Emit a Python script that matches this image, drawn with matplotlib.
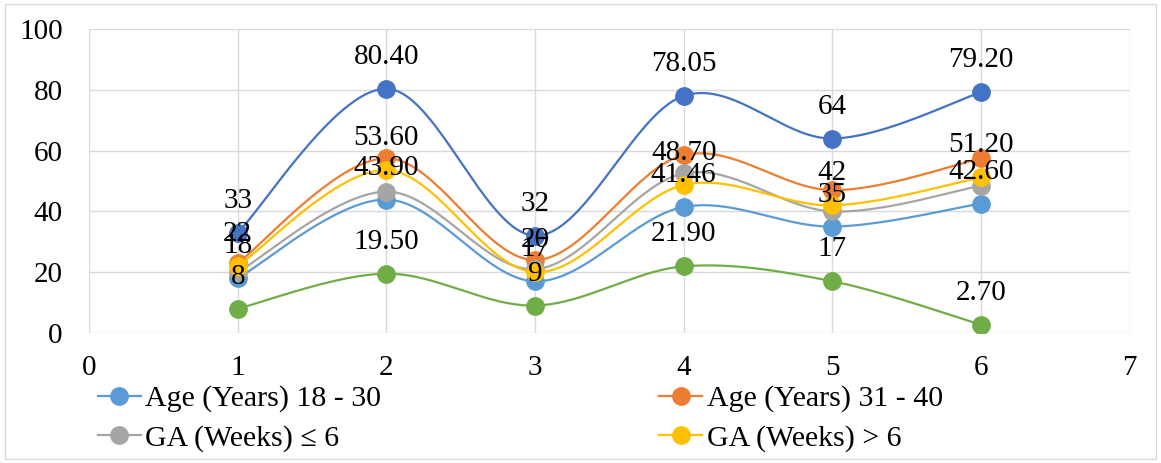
import matplotlib.pyplot as plt
import numpy as np
from matplotlib.lines import Line2D
from matplotlib.patches import Rectangle

plt.rcParams['font.family'] = ['Liberation Serif', 'DejaVu Serif']

x = [1, 2, 3, 4, 5, 6]

# labelled series, kept as the strings printed above each point
top_labels = ["33", "80.40", "32", "78.05", "64", "79.20"]
bottom_labels = ["8", "19.50", "9", "21.90", "17", "2.70"]
age_18_30_labels = ["18", "43.90", "17", "41.46", "35", "42.60"]
ga_over_6_labels = ["22", "53.60", "20", "48.70", "42", "51.20"]

# series drawn without labels
age_31_40 = [23, 57.5, 24, 58.5, 47, 57.5]
ga_upto_6 = [20, 46.5, 21, 52.5, 40, 48.5]

xticks = [0, 1, 2, 3, 4, 5, 6, 7]
yticks = [0, 20, 40, 60, 80, 100]


def smooth(xs, ys, n=40):
    # bezier curve through the points, like a spreadsheet "smoothed line"
    p = np.column_stack([xs, ys]).astype(float)
    p = np.vstack([p[0], p, p[-1]])
    out = []
    t = np.linspace(0, 1, n)[:, None]
    for i in range(1, len(p) - 2):
        p0, p1, p2, p3 = p[i - 1], p[i], p[i + 1], p[i + 2]
        c1 = p1 + (p2 - p0) / 6
        c2 = p2 - (p3 - p1) / 6
        seg = (1 - t)**3 * p1 + 3 * (1 - t)**2 * t * c1 + 3 * (1 - t) * t**2 * c2 + t**3 * p2
        out.append(seg)
    pts = np.vstack(out)
    return pts[:, 0], pts[:, 1]


fig = plt.figure(figsize=(11.61, 4.63), dpi=100)
ax = fig.add_axes([0.0767, 0.281, 0.8963, 0.656])

series = [
    ("Age (Years) 18 - 30", [float(v) for v in age_18_30_labels], "#5B9BD5", age_18_30_labels),
    ("Age (Years) 31 - 40", age_31_40, "#ED7D31", None),
    ("GA (Weeks) \u2264 6", ga_upto_6, "#A5A5A5", None),
    ("GA (Weeks) > 6", [float(v) for v in ga_over_6_labels], "#FFC000", ga_over_6_labels),
    ("top", [float(v) for v in top_labels], "#4472C4", top_labels),
    ("bottom", [float(v) for v in bottom_labels], "#70AD47", bottom_labels),
]

handles = {}
z = 3
for name, ys, color, labels in series:
    sx, sy = smooth(x, ys)
    ax.plot(sx, sy, color=color, lw=1.6, zorder=z, solid_capstyle='round')
    ax.plot(x, ys, 'o', color=color, ms=12.5, mec=color, zorder=z + 0.5)
    handles[name] = Line2D([], [], color=color, lw=1.6, marker='o', ms=12.5)
    z += 1

for name, ys, color, labels in series:
    if labels is None:
        continue
    for xi, yi, lab in zip(x, ys, labels):
        ax.annotate(lab, (xi, yi), xytext=(0, 23), textcoords='offset points',
                    ha='center', va='center', fontsize=21, color='black', zorder=20)

ax.set_xlim(0, 7)
ax.set_ylim(0, 100)
ax.set_xticks(xticks)
ax.set_yticks(yticks)
ax.grid(True, color='#D9D9D9', lw=1)
ax.set_axisbelow(True)
for s in ax.spines.values():
    s.set_visible(False)
ax.tick_params(length=0, labelsize=21)
ax.tick_params(axis='y', pad=19)
ax.tick_params(axis='x', pad=16)

order = ["Age (Years) 18 - 30", "GA (Weeks) \u2264 6", "Age (Years) 31 - 40", "GA (Weeks) > 6"]
fig.legend([handles[k] for k in order], order, ncol=2, loc='upper left',
           bbox_to_anchor=(0.084, 0.168), frameon=False, fontsize=21.5,
           handlelength=1.45, handletextpad=0.15, columnspacing=9.3,
           labelspacing=0.42, borderpad=0, borderaxespad=0)

fig.add_artist(Rectangle((0.004, 0.008), 0.992, 0.984, transform=fig.transFigure,
                         fill=False, edgecolor='#D9D9D9', lw=1))

fig.savefig('out.png', dpi=100)
